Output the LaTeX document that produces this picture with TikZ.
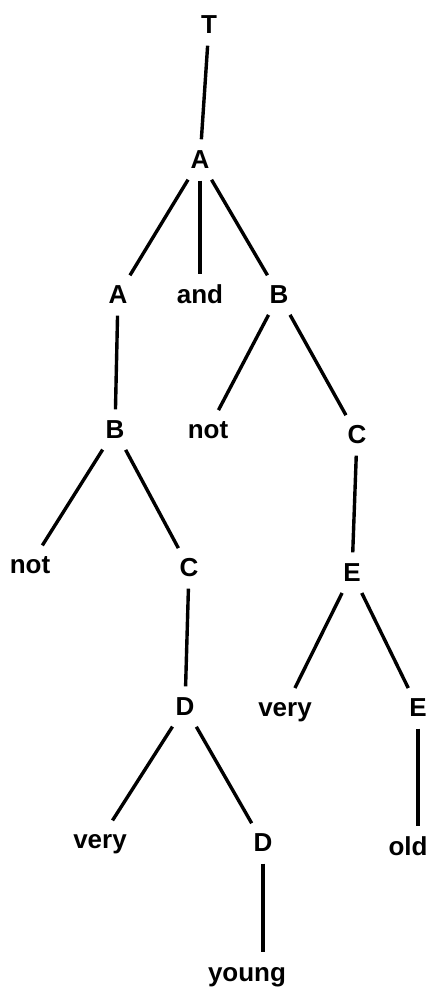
\documentclass[tikz,border=0pt]{standalone}
\usepackage{fontspec}
\setmainfont{Liberation Sans}

\begin{document}
\begin{tikzpicture}[x=1pt, y=-1pt,
		lbl/.style={font=\bfseries\fontsize{26}{26}\selectfont, inner sep=3pt, text height=19pt, text depth=2pt},
		branch/.style={line width=3.4pt, shorten >=7pt, shorten <=7pt}]
		\useasboundingbox (0,0) rectangle (429,990);

		% Root and first level
		\node[lbl] (t) at (209, 25) {T};
		\node[lbl] (a1) at (200, 160) {A};

		% Second level
		\node[lbl] (a2) at (118, 295) {A};
		\node[lbl] (and) at (200, 295) {and};
		\node[lbl] (b1) at (279, 295) {B};

		% Third level
		\node[lbl] (b2) at (115, 430) {B};
		\node[lbl] (not1) at (208, 430) {not};
		\node[lbl] (c1) at (357, 435) {C};

		% Fourth level
		\node[lbl] (not2) at (30, 565) {not};
		\node[lbl] (c2) at (189, 568) {C};
		\node[lbl] (e1) at (352, 573) {E};

		% Fifth level
		\node[lbl] (d1) at (185, 707) {D};
		\node[lbl] (very1) at (285, 708) {very};
		\node[lbl] (e2) at (418, 708) {E};

		% Sixth level
		\node[lbl] (very2) at (100, 840) {very};
		\node[lbl] (d2) at (263, 843) {D};
		\node[lbl] (old) at (408, 847) {old};

		% Leaf
		\node[lbl] (young) at (247, 973) {young};

		% Branches
		\draw[branch] (t) -- (a1);
		\draw[branch] (a1) -- (a2);
		\draw[branch] (a1) -- (and);
		\draw[branch] (a1) -- (b1);
		\draw[branch] (a2) -- (b2);
		\draw[branch] (b1) -- (not1);
		\draw[branch] (b1) -- (c1);
		\draw[branch] (b2) -- (not2);
		\draw[branch] (b2) -- (c2);
		\draw[branch] (c1) -- (e1);
		\draw[branch] (c2) -- (d1);
		\draw[branch] (e1) -- (very1);
		\draw[branch] (e1) -- (e2);
		\draw[branch] (d1) -- (very2);
		\draw[branch] (d1) -- (d2);
		\draw[branch] (e2) -- (e2 |- old.north);
		\draw[branch] (d2) -- (d2 |- young.north);
	\end{tikzpicture}
\end{document}
